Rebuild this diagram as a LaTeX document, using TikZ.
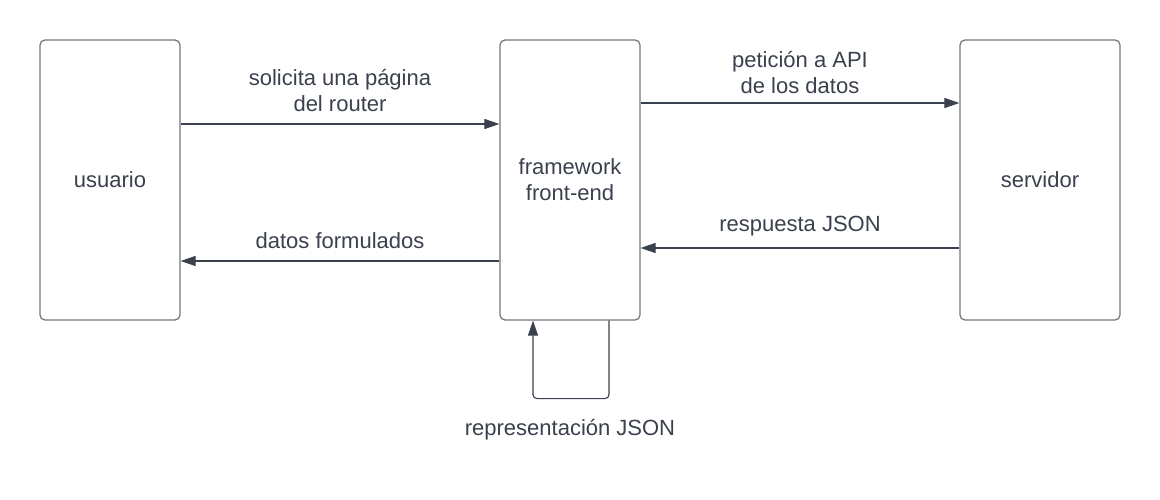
\documentclass[tikz,border=0pt]{standalone}
\usepackage{fontspec}
\setmainfont{Liberation Sans}
\usetikzlibrary{positioning, arrows.meta}
\definecolor{BoxGray}{RGB}{112, 116, 124}
\definecolor{InkDark}{RGB}{58, 65, 77}

\tikzset{
  actor/.style={draw=BoxGray, line width=1.2pt, rounded corners=5pt, minimum width=140pt, minimum height=280pt, inner sep=0pt, text=InkDark, align=center},
  msg/.style={text=InkDark, align=center, inner sep=0pt},
  arr/.style={draw=InkDark, line width=1.1pt, -{Triangle[length=15pt,width=10pt]}}
}

\begin{document}
\begin{tikzpicture}[x=1pt, y=-1pt, font=\fontsize{22}{26}\selectfont]
      \useasboundingbox (0,0) rectangle (1160,500);

      % Boxes
      \node[actor] (usuario) at (110,180) {usuario};
      \node[actor] (front) at (570,180) {framework\\front-end};
      \node[actor, minimum width=160pt] (servidor) at (1040,180) {servidor};

      % Requests
      \draw[arr] ([yshift=56pt]usuario.east) -- ([yshift=56pt]front.west);
      \draw[arr] ([yshift=77pt]front.east) -- ([yshift=77pt]servidor.west);

      % Answers
      \draw[arr] ([yshift=-68pt]servidor.west) -- ([yshift=-68pt]front.east);
      \draw[arr] ([yshift=-81pt]front.west) -- ([yshift=-81pt]usuario.east);

      % Loop on the front-end
      \draw[arr, rounded corners=4pt] ([xshift=39pt]front.south) -- ++(0,78) -| ([xshift=-37pt]front.south);

      % Labels
      \node[msg] (lblpagina) at (340,91) {solicita una página\\del router};
      \node[msg] (lblapi) at (800,73) {petición a API\\de los datos};
      \node[msg] (lbljson) at (800,226) {respuesta JSON};
      \node[msg] (lbldatos) at (340,241) {datos formulados};
      \node[msg] (lblrepr) at (570,430) {representación JSON};
    \end{tikzpicture}
\end{document}
